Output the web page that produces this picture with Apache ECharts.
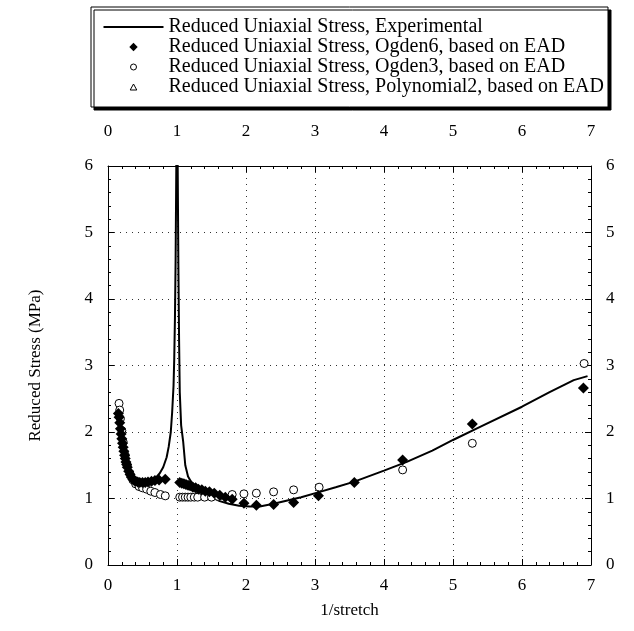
<!DOCTYPE html>
<html>
<head>
<meta charset="utf-8">
<script src="https://cdn.jsdelivr.net/npm/echarts@6/dist/echarts.min.js"></script>
<style>
  html, body { margin: 0; padding: 0; background: #fff; }
  #chart { width: 634px; height: 631px; }
</style>
</head>
<body>
<div id="chart"></div>
<script>
// names of the series, as in the legend
var names = [
    'Reduced Uniaxial Stress, Experimental',
    'Reduced Uniaxial Stress, Ogden6, based on EAD',
    'Reduced Uniaxial Stress, Ogden3, based on EAD',
    'Reduced Uniaxial Stress, Polynomial2, based on EAD'
];
var xTicks = [0, 1, 2, 3, 4, 5, 6, 7];
var yTicks = [0, 1, 2, 3, 4, 5, 6];

// experimental curve  [1/stretch, stress]
var expX = [0.15, 0.17, 0.20, 0.23, 0.26, 0.30, 0.35, 0.40, 0.45, 0.50, 0.55, 0.60, 0.65, 0.70, 0.75,
    0.80, 0.85, 0.88, 0.91, 0.93, 0.95, 0.96, 0.97, 0.98, 0.99, 0.995,
    1.005, 1.01, 1.02, 1.03, 1.04, 1.06, 1.09, 1.12, 1.16, 1.20, 1.25, 1.30, 1.40, 1.50, 1.62, 1.75,
    1.90, 2.05, 2.20, 2.40, 2.60, 2.80, 3.07, 3.30, 3.56, 4.00, 4.33, 4.70, 5.00, 5.40, 6.00, 6.40, 6.75, 6.95];
var expY = [2.25, 2.10, 1.88, 1.70, 1.56, 1.43, 1.33, 1.28, 1.25, 1.24, 1.24, 1.25, 1.28, 1.32, 1.38,
    1.47, 1.62, 1.78, 2.00, 2.30, 2.70, 3.10, 3.70, 4.60, 6.00, 7.00,
    7.00, 6.00, 4.50, 3.40, 2.60, 2.10, 1.85, 1.50, 1.33, 1.26, 1.20, 1.15, 1.08, 1.02, 0.96, 0.92,
    0.89, 0.88, 0.88, 0.92, 0.97, 1.02, 1.10, 1.17, 1.25, 1.42, 1.55, 1.72, 1.88, 2.08, 2.38, 2.60, 2.78, 2.84];

// Ogden6 model points
var og6X = [0.15, 0.16, 0.17, 0.18, 0.19, 0.20, 0.21, 0.22, 0.23, 0.24, 0.25, 0.26, 0.27, 0.28, 0.30,
    0.32, 0.34, 0.36, 0.38, 0.40, 0.43, 0.46, 0.50, 0.54, 0.58, 0.63, 0.68, 0.74, 0.83,
    1.04, 1.07, 1.10, 1.13, 1.16, 1.19, 1.23, 1.27, 1.31, 1.36, 1.41, 1.47, 1.54, 1.62, 1.70, 1.80,
    1.97, 2.15, 2.40, 2.69, 3.05, 3.57, 4.27, 5.28, 6.89];
var og6Y = [2.28, 2.22, 2.14, 2.05, 1.97, 1.90, 1.83, 1.77, 1.71, 1.65, 1.60, 1.55, 1.51, 1.47, 1.41,
    1.36, 1.32, 1.29, 1.27, 1.26, 1.25, 1.24, 1.24, 1.24, 1.25, 1.26, 1.27, 1.28, 1.29,
    1.24, 1.23, 1.22, 1.21, 1.20, 1.19, 1.17, 1.16, 1.14, 1.13, 1.11, 1.10, 1.08, 1.05, 1.02, 0.99,
    0.93, 0.90, 0.91, 0.94, 1.04, 1.24, 1.58, 2.12, 2.66];

// Ogden3 model points
var og3X = [0.16, 0.17, 0.18, 0.20, 0.22, 0.25, 0.28, 0.32, 0.36, 0.40, 0.45, 0.50, 0.56, 0.62, 0.68, 0.76, 0.83,
    1.04, 1.08, 1.12, 1.16, 1.20, 1.25, 1.30, 1.40, 1.50, 1.60, 1.80, 1.97, 2.15, 2.40, 2.69, 3.06, 4.27, 5.28, 6.90];
var og3Y = [2.43, 2.33, 2.20, 2.02, 1.85, 1.65, 1.50, 1.37, 1.28, 1.22, 1.18, 1.16, 1.14, 1.11, 1.09, 1.06, 1.04,
    1.02, 1.02, 1.02, 1.02, 1.02, 1.02, 1.02, 1.02, 1.02, 1.03, 1.06, 1.07, 1.08, 1.10, 1.13, 1.17, 1.43, 1.83, 3.03];

// Polynomial2 model points (none visible in the figure)
var polyX = [];
var polyY = [];

function pairs(xs, ys) {
    var out = [];
    for (let i = 0; i < xs.length; i++) {
        out.push([xs[i], ys[i]]);
    }
    return out;
}

var font = "'Liberation Serif', 'Times New Roman', serif";
var black = '#000';

// legend icons: a 60x9 box, the small symbols sit in the middle of it
var iconLine = 'path://M0,0M60,9M0,3.6L60,3.6L60,5.4L0,5.4Z';
var iconDiamond = 'path://M0,0M60,9M30,0.3L34.2,4.5L30,8.7L25.8,4.5Z';
var iconCircle = 'path://M0,0M60,9M33,4.5A3,3,0,1,1,27,4.5A3,3,0,1,1,33,4.5Z';
var iconTriangle = 'path://M0,0M60,9M30,1.5L33.3,7.5L26.7,7.5Z';
var hollow = { color: '#fff', borderColor: black, borderWidth: 1, opacity: 1 };
var solid = { color: black, opacity: 1 };

function xAxisOf(pos) {
    return {
        type: 'value',
        position: pos,
        min: xTicks[0],
        max: xTicks[xTicks.length - 1],
        interval: 1,
        name: pos == 'bottom' ? '1/stretch' : '',
        nameLocation: 'middle',
        nameGap: 37,
        nameTextStyle: { fontFamily: font, fontSize: 17, color: black },
        axisLine: { show: true, onZero: false, lineStyle: { color: black, width: 1 } },
        axisTick: { show: true, inside: true, length: 6, lineStyle: { color: black } },
        minorTick: { show: true, splitNumber: 5, length: 3, lineStyle: { color: black } },
        axisLabel: { show: true, margin: pos == 'bottom' ? 12 : 26, fontFamily: font, fontSize: 17, color: black },
        splitLine: { show: pos == 'bottom', lineStyle: { color: '#333', type: [1, 5], width: 1 } }
    };
}

function yAxisOf(pos) {
    return {
        type: 'value',
        position: pos,
        min: yTicks[0],
        max: yTicks[yTicks.length - 1],
        interval: 1,
        name: pos == 'left' ? 'Reduced Stress (MPa)' : '',
        nameLocation: 'middle',
        nameGap: 64,
        nameTextStyle: { fontFamily: font, fontSize: 17, color: black },
        axisLine: { show: true, onZero: false, lineStyle: { color: black, width: 1 } },
        axisTick: { show: true, inside: true, length: 6, lineStyle: { color: black } },
        minorTick: { show: true, splitNumber: 5, length: 3, lineStyle: { color: black } },
        axisLabel: { show: true, margin: 15, fontFamily: font, fontSize: 17, color: black },
        splitLine: { show: pos == 'left', lineStyle: { color: '#333', type: [1, 5], width: 1 } }
    };
}

var option = {
    backgroundColor: '#fff',
    animation: false,
    legend: {
        orient: 'vertical',
        left: 91,
        top: 7,
        padding: [10, 4, 10, 12],
        itemWidth: 60,
        itemHeight: 9,
        itemGap: 0,
        backgroundColor: '#fff',
        borderColor: black,
        borderWidth: 1,
        shadowColor: black,
        shadowBlur: 0,
        shadowOffsetX: 3,
        shadowOffsetY: 3,
        textStyle: { fontFamily: font, fontSize: 20, color: black, lineHeight: 18.7 },
        data: [
            { name: names[0], icon: iconLine },
            { name: names[1], icon: iconDiamond, itemStyle: solid },
            { name: names[2], icon: iconCircle, itemStyle: hollow },
            { name: names[3], icon: iconTriangle, itemStyle: hollow }
        ]
    },
    grid: { left: 108, right: 43, top: 166, bottom: 66 },
    xAxis: [xAxisOf('bottom'), xAxisOf('top')],
    yAxis: [yAxisOf('left'), yAxisOf('right')],
    series: [
        {
            name: names[0],
            type: 'line',
            data: pairs(expX, expY),
            showSymbol: false,
            symbol: 'none',
            clip: true,
            lineStyle: { color: black, width: 2 },
            itemStyle: { color: black },
            z: 2
        },
        {
            name: names[2],
            type: 'scatter',
            data: pairs(og3X, og3Y),
            symbol: 'circle',
            symbolSize: 8,
            itemStyle: hollow,
            z: 3
        },
        {
            name: names[1],
            type: 'scatter',
            data: pairs(og6X, og6Y),
            symbol: 'diamond',
            symbolSize: 11,
            itemStyle: solid,
            z: 4
        },
        {
            name: names[3],
            type: 'scatter',
            data: pairs(polyX, polyY),
            symbol: 'triangle',
            symbolSize: 7,
            itemStyle: hollow,
            z: 3
        }
    ]
};

var myChart = echarts.init(document.getElementById('chart'));
myChart.setOption(option);
</script>
</body>
</html>
